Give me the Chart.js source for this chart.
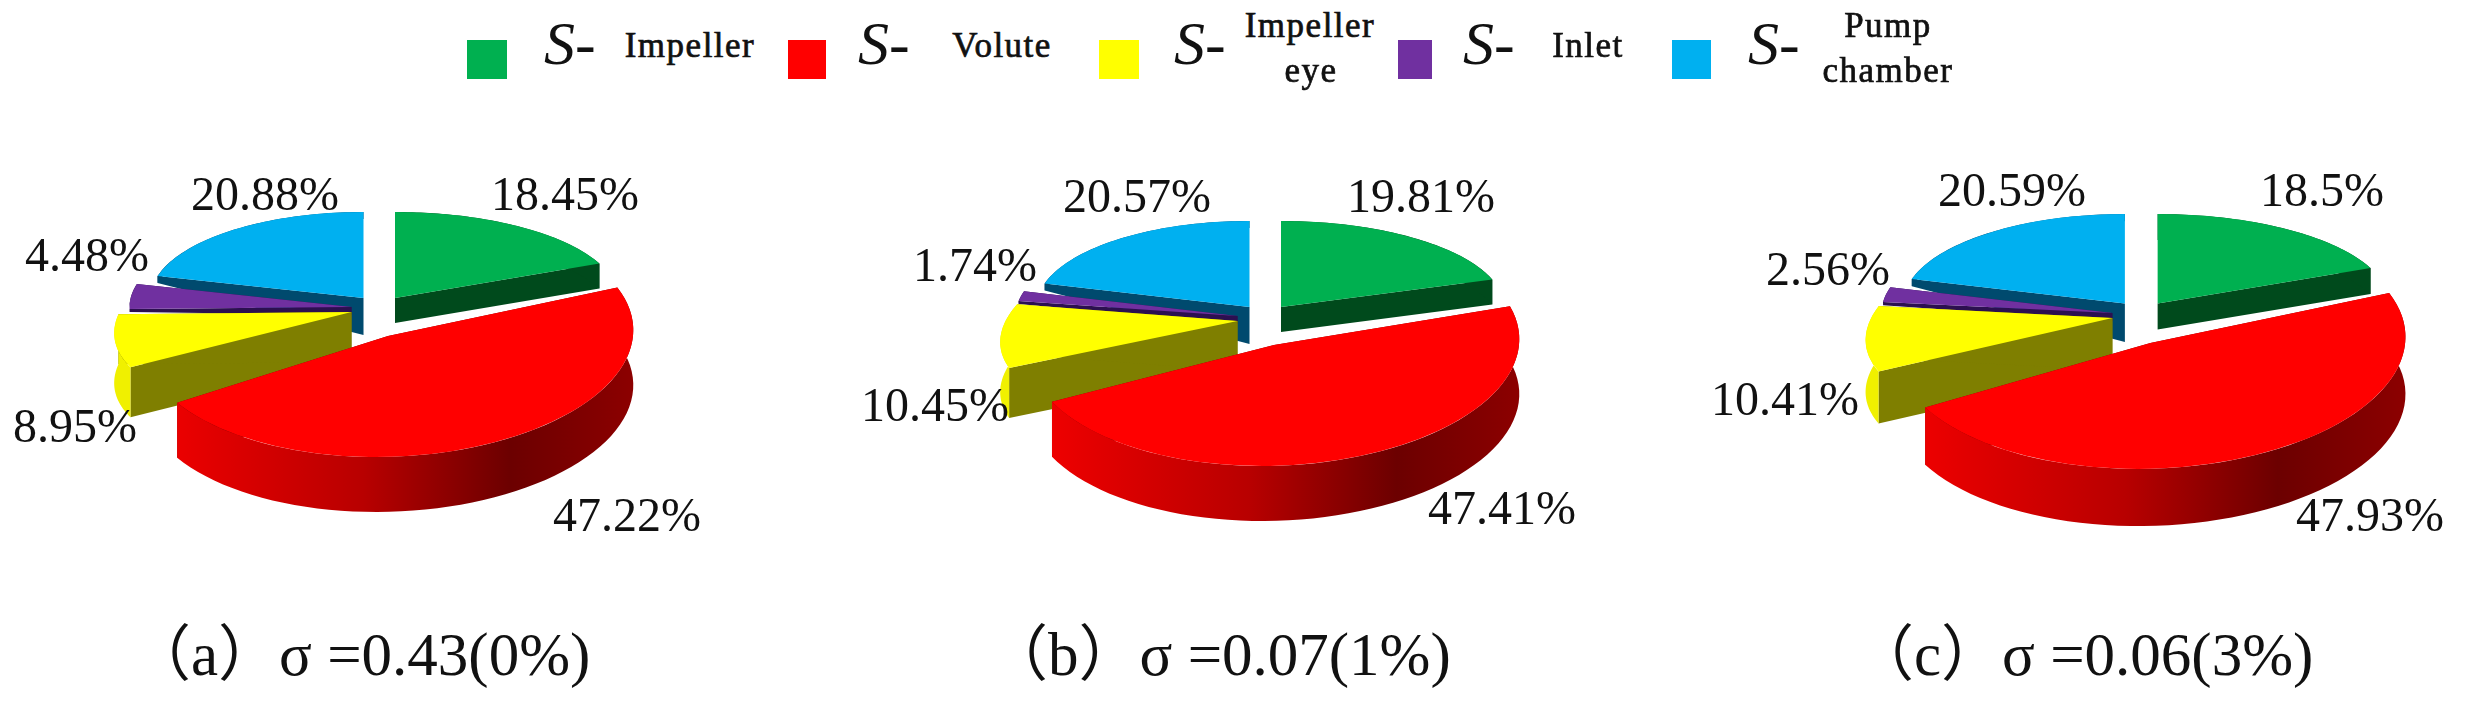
<!DOCTYPE html>
<html lang="en">
<head>
  <meta charset="UTF-8">
  <title>Entropy share per pump part</title>
  <script src="https://cdn.jsdelivr.net/npm/chart.js"></script>
  <style>
    body {
      background-color: white;
      color: #111;
      font-family: "Liberation Serif", "Noto Sans CJK SC", serif;
      margin: 0;
      width: 2469px;
      height: 714px;
      overflow: hidden;
      position: relative;
    }

    canvas, .swatch, .txt {
      position: absolute;
    }

    .txt {
      white-space: nowrap;
      line-height: 1;
    }

    .part {
      font-size: 35px;
      letter-spacing: 1.5px;
      transform: translate(-50%, -50%);
      -webkit-text-stroke: 0.7px #111;
    }

    .ess {
      font-size: 62px;
      font-style: italic;
    }

    .caption {
      font-size: 61px;
    }
  </style>
</head>
<body>
  <script>
    const parts = ['S-Impeller', 'S-Volute', 'S-Impeller eye', 'S-Inlet', 'S-Pump chamber'];

    // order in each list: impeller, volute, impeller eye, inlet, pump chamber
    const valuesA = [18.45, 47.22, 8.95, 4.48, 20.88];
    const valuesB = [19.81, 47.41, 10.45, 1.74, 20.57];
    const valuesC = [18.5, 47.93, 10.41, 2.56, 20.59];

    const captions = ['（a）σ =0.43(0%)', '（b）σ =0.07(1%)', '（c）σ =0.06(3%)'];

    const topColors = ['#00b050', '#ff0000', '#ffff00', '#7030a0', '#00b0f0'];
    const wallColors = ['#004a1c', '#800000', '#7f7f00', '#2c1050', '#004a6e'];

    // how each slice sits in the fake 3D view (back ones smaller, front one pulled forward)
    const sliceLook = [
      { dx: 16, dy: -12, rx: 223, ry: 86, skew: 0, depthIn: 25, depthOut: 25 },
      { dx: 9, dy: 26, rx: 245, ry: 121, skew: -12, depthIn: 55, depthOut: 55 },
      { dx: -27.5, dy: 2, rx: 232, ry: 100, skew: -50, depthIn: 50, depthOut: 50 },
      { dx: -27.5, dy: -3, rx: 222, ry: 90, skew: 0, depthIn: 8, depthOut: 3 },
      { dx: -15.5, dy: -12, rx: 213, ry: 86, skew: 0, depthIn: 37, depthOut: 7 }
    ];

    // canvases are centred on these page points
    const canvasW = 960, canvasH = 460;
    const pies = [
      { values: valuesA, centre: [379, 310], zoom: 1,
        labelSpots: [[565, 197], [627, 518], [75, 429], [87, 258], [265, 197]] },
      { values: valuesB, centre: [1265, 319], zoom: 1,
        labelSpots: [[1421, 199], [1502, 511], [935, 408], [975, 268], [1137, 199]] },
      { values: valuesC, centre: [2141, 316], zoom: 1.04,
        labelSpots: [[2322, 193], [2370, 518], [1785, 402], [1828, 272], [2012, 193]] }
    ];

    function rimFill(ctx, i, left, right) {
      if (i !== 1) return i === 2 ? '#f0f000' : wallColors[i];
      const g = ctx.createLinearGradient(left, 0, right, 0);
      g.addColorStop(0, '#f40000');
      g.addColorStop(0.45, '#b80000');
      g.addColorStop(0.75, '#6c0000');
      g.addColorStop(1, '#8c0000');
      return g;
    }

    const pie3d = {
      id: 'pie3d',
      // the library's arcs are drawn here one by one, each under its own squash
      beforeDatasetDraw(chart) {
        const ctx = chart.ctx;
        const zoom = chart.options.plugins.pie3d.zoom;
        const arcs = chart.getDatasetMeta(0).data;
        [0, 4, 3, 2, 1].forEach(i => {
          const arc = arcs[i], look = sliceLook[i];
          const ox = arc.x + look.dx * zoom, oy = arc.y + look.dy * zoom;
          const rx = look.rx * zoom, ry = look.ry * zoom, skew = look.skew * zoom;
          const inner = look.depthIn * zoom, outer = look.depthOut * zoom;
          const at = (a, d) => [ox + Math.cos(a) * rx + Math.sin(a) * skew, oy + Math.sin(a) * ry + d];

          // cut faces
          ctx.fillStyle = wallColors[i];
          [arc.startAngle, arc.endAngle].forEach(a => {
            ctx.beginPath();
            ctx.moveTo(ox, oy);
            ctx.lineTo(...at(a, 0));
            ctx.lineTo(...at(a, outer));
            ctx.lineTo(ox, oy + inner);
            ctx.closePath();
            ctx.fill();
          });

          // outer rim
          const steps = 60;
          const sweep = arc.endAngle - arc.startAngle;
          ctx.beginPath();
          for (let s = 0; s <= steps; s++) ctx.lineTo(...at(arc.startAngle + sweep * s / steps, 0));
          for (let s = steps; s >= 0; s--) ctx.lineTo(...at(arc.startAngle + sweep * s / steps, outer));
          ctx.closePath();
          ctx.fillStyle = rimFill(ctx, i, ox - rx, ox + rx);
          ctx.fill();

          // top face
          const R = arc.outerRadius;
          ctx.save();
          ctx.transform(rx / R, 0, skew / R, ry / R, ox, oy);
          ctx.translate(-arc.x, -arc.y);
          arc.draw(ctx);
          ctx.restore();
        });
        return false;
      },
      afterDatasetsDraw(chart) {
        const ctx = chart.ctx;
        const o = chart.options.plugins.pie3d;
        ctx.save();
        ctx.font = '48px "Liberation Serif"';
        ctx.fillStyle = '#111';
        ctx.textAlign = 'center';
        ctx.textBaseline = 'middle';
        chart.data.datasets[0].data.forEach((v, i) => {
          ctx.fillText(v + '%', o.labelSpots[i][0] - o.left, o.labelSpots[i][1] - o.top);
        });
        ctx.restore();
      }
    };

    pies.forEach(p => {
      const canvas = document.createElement('canvas');
      canvas.width = canvasW;
      canvas.height = canvasH;
      const left = p.centre[0] - canvasW / 2;
      const top = p.centre[1] - canvasH / 2;
      canvas.style.left = left + 'px';
      canvas.style.top = top + 'px';
      document.body.appendChild(canvas);

      new Chart(canvas.getContext('2d'), {
        type: 'pie',
        data: {
          labels: parts,
          datasets: [{
            data: p.values,
            backgroundColor: topColors,
            borderWidth: 0
          }]
        },
        options: {
          responsive: false,
          animation: false,
          radius: 100,
          layout: { padding: 0 },
          plugins: {
            legend: { display: false },
            tooltip: { enabled: false },
            pie3d: { zoom: p.zoom, labelSpots: p.labelSpots, left: left, top: top }
          }
        },
        plugins: [pie3d]
      });
    });

    // legend and captions
    function addText(cls, text, x, y) {
      const el = document.createElement('div');
      el.className = 'txt ' + cls;
      el.textContent = text;
      el.style.left = x + 'px';
      el.style.top = y + 'px';
      document.body.appendChild(el);
    }

    const swatchX = [467, 788, 1099, 1398, 1672];
    const swatchW = [40, 38, 40, 34, 39];
    const essX = [544, 858, 1174, 1463, 1748];
    const legendLines = [
      [['Impeller', 690, 45]],
      [['Volute', 1002, 45]],
      [['Impeller', 1310, 25], ['eye', 1311, 70]],
      [['Inlet', 1588, 45]],
      [['Pump', 1888, 25], ['chamber', 1888, 70]]
    ];

    parts.forEach((name, i) => {
      const sw = document.createElement('div');
      sw.className = 'swatch';
      sw.style.cssText = `left:${swatchX[i]}px;top:40px;width:${swatchW[i]}px;height:39px;background:${topColors[i]}`;
      document.body.appendChild(sw);

      addText('ess', 'S-', essX[i], 12);
      legendLines[i].forEach(l => addText('part', l[0], l[1], l[2]));
    });

    const captionX = [130, 987, 1853];
    captions.forEach((c, i) => addText('caption', c, captionX[i], 624));
  </script>
</body>
</html>
